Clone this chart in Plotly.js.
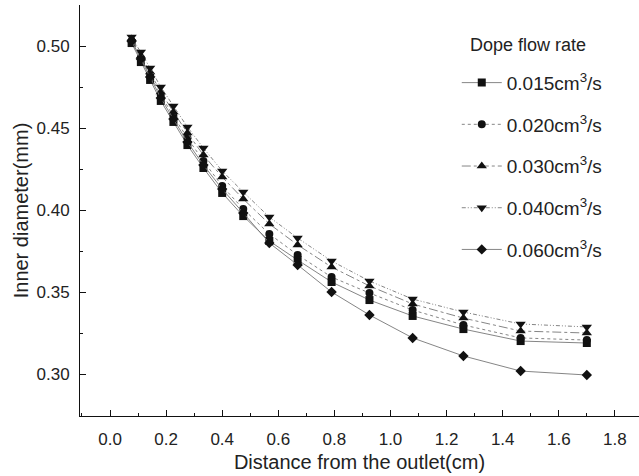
<!DOCTYPE html>
<html>
<head>
<meta charset="utf-8">
<script src="https://cdn.plot.ly/plotly-3.0.1.min.js"></script>
<style>html,body{margin:0;padding:0;background:#fff;}#chart{width:639px;height:476px;}</style>
</head>
<body>
<div id="chart"></div>
<script>
const distance = [0.077, 0.11, 0.143, 0.181, 0.226, 0.276, 0.333, 0.40, 0.475, 0.568, 0.669, 0.79, 0.925, 1.079, 1.26, 1.464, 1.70];
const rate015 = [0.5018, 0.4902, 0.4793, 0.4665, 0.4537, 0.4396, 0.4256, 0.4104, 0.3963, 0.3811, 0.3695, 0.3561, 0.3451, 0.3354, 0.3274, 0.3201, 0.3189];
const rate020 = [0.5030, 0.4927, 0.4823, 0.4701, 0.4573, 0.4439, 0.4299, 0.4146, 0.4006, 0.3854, 0.3726, 0.3591, 0.3494, 0.3390, 0.3299, 0.3220, 0.3207];
const rate030 = [0.5043, 0.4939, 0.4841, 0.4720, 0.4598, 0.4470, 0.4335, 0.4201, 0.4067, 0.3915, 0.3787, 0.3652, 0.3537, 0.3427, 0.3341, 0.3262, 0.3250];
const rate040 = [0.5055, 0.4963, 0.4866, 0.4750, 0.4634, 0.4506, 0.4378, 0.4238, 0.4110, 0.3957, 0.3829, 0.3689, 0.3567, 0.3457, 0.3378, 0.3305, 0.3287];
const rate060 = [0.5030, 0.4921, 0.4811, 0.4683, 0.4555, 0.4415, 0.4274, 0.4128, 0.3982, 0.3799, 0.3665, 0.3500, 0.3360, 0.3220, 0.3110, 0.3018, 0.2994];
const seriesNames = ['0.015cm<sup>3</sup>/s', '0.020cm<sup>3</sup>/s', '0.030cm<sup>3</sup>/s', '0.040cm<sup>3</sup>/s', '0.060cm<sup>3</sup>/s'];
const seriesValues = [rate015, rate020, rate030, rate040, rate060];
const symbols = ['square', 'circle', 'triangle-up', 'triangle-down', 'diamond'];
const sizes = [8, 8, 9, 9, 8];
const dashes = ['solid', 'dot', 'dashdot', '4px,2px,1px,2px,1px,2px', 'solid'];
const legendTitle = 'Dope flow rate';

const traces = seriesValues.map((vals, i) => ({
  x: distance, y: vals, name: seriesNames[i], type: 'scatter', mode: 'lines+markers',
  legendgroup: 'g' + i,
  line: {color: '#777', width: 0.9, dash: dashes[i]},
  marker: {symbol: symbols[i], size: sizes[i], color: '#111'}
}));

const fontFam = '"Liberation Sans", Arial, sans-serif';
const layout = {
  width: 639, height: 476,
  margin: {l: 80, r: 0, t: 5, b: 60},
  paper_bgcolor: '#fff', plot_bgcolor: '#fff',
  font: {family: fontFam, color: '#222'},
  showlegend: true,
  legend: {
    x: 0.674, y: 0.857, xanchor: 'left', yanchor: 'top',
    font: {size: 19, family: fontFam, color: '#222'},
    tracegroupgap: 14, itemwidth: 40, bgcolor: 'rgba(0,0,0,0)'
  },
  annotations: [{
    text: legendTitle, xref: 'paper', yref: 'paper', x: 0.6935, y: 1 - 40 / 411,
    xanchor: 'left', yanchor: 'middle', showarrow: false,
    font: {size: 18, family: fontFam, color: '#222'}
  }],
  xaxis: {
    range: [-0.107, 1.886], dtick: 0.2, tick0: 0, tickformat: '.1f',
    ticks: 'inside', ticklen: 6, tickcolor: '#111', showline: true, linecolor: '#111', linewidth: 1,
    showgrid: false, zeroline: false, ticklabelstandoff: 8,
    tickfont: {size: 17, color: '#222'},
    minor: {dtick: 0.1, ticks: 'inside', ticklen: 3, tickcolor: '#111', showgrid: false},
    title: {text: 'Distance from the outlet(cm)', font: {size: 20, color: '#222'}, standoff: 6}
  },
  yaxis: {
    range: [0.2744, 0.525], dtick: 0.05, tick0: 0, tickformat: '.2f',
    ticks: 'inside', ticklen: 6, tickcolor: '#111', showline: true, linecolor: '#111', linewidth: 1,
    showgrid: false, zeroline: false, ticklabelstandoff: 6,
    tickfont: {size: 17, color: '#222'},
    minor: {dtick: 0.025, ticks: 'inside', ticklen: 3, tickcolor: '#111', showgrid: false},
    title: {text: 'Inner diameter(mm)', font: {size: 20, color: '#222'}, standoff: 2}
  }
};
Plotly.newPlot('chart', traces, layout, {displayModeBar: false, staticPlot: true});
</script>
</body>
</html>
